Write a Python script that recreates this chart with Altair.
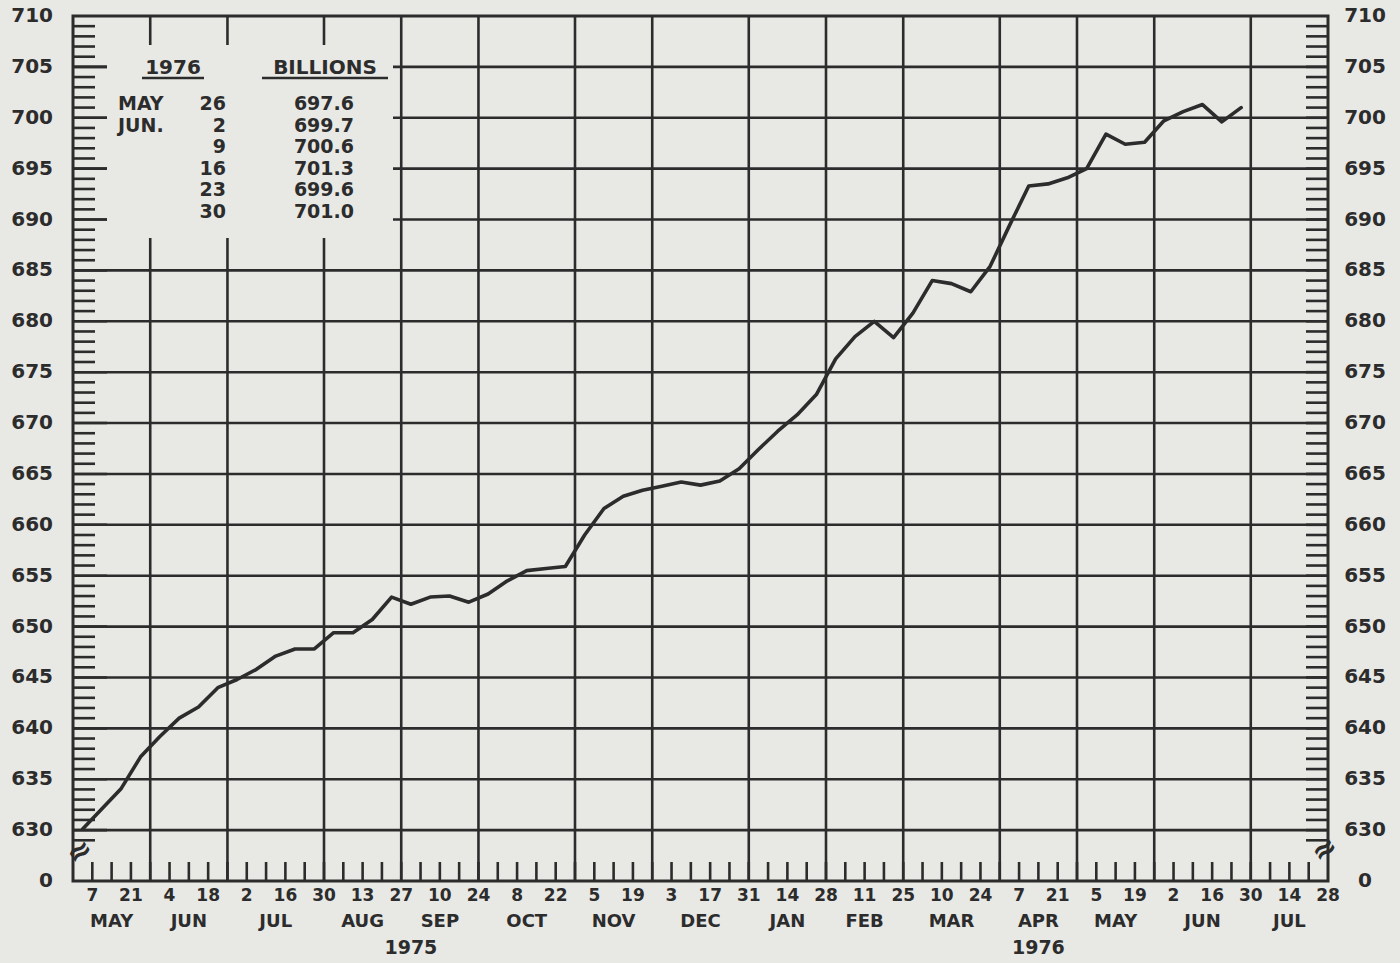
import altair as alt
import pandas as pd

# ---------------- data ----------------
START = "1975-04-30"          # left frame (last Wednesday of April 1975)
END = "1976-07-28"            # right frame

# weekly values (billions), Wednesdays from 7 May 1975 to 30 June 1976
MONEY_STOCK = [
    630.1, 632.1, 634.1, 637.2, 639.2, 641.0, 642.1, 644.0, 644.8, 645.8,
    647.1, 647.8, 647.8, 649.4, 649.4, 650.7, 652.9, 652.2, 652.9, 653.0,
    652.4, 653.2, 654.5, 655.5, 655.7, 655.9, 659.0, 661.6, 662.8, 663.4,
    663.8, 664.2, 663.9, 664.3, 665.5, 667.4, 669.2, 670.8, 672.8, 676.3,
    678.5, 680.0, 678.4, 680.8, 684.0, 683.7, 682.9, 685.4, 689.4, 693.3,
    693.5, 694.1, 695.0, 698.4, 697.4, 697.6, 699.7, 700.6, 701.3, 699.6,
    701.0,
]
FIRST_WEEK = "1975-05-07"

MONTH_NAMES = ["MAY", "JUN", "JUL", "AUG", "SEP", "OCT", "NOV", "DEC",
               "JAN", "FEB", "MAR", "APR", "MAY", "JUN", "JUL"]
MONTH_END_DATES = ["1975-05-28", "1975-06-25", "1975-07-30", "1975-08-27",
                   "1975-09-24", "1975-10-29", "1975-11-26", "1975-12-31",
                   "1976-01-28", "1976-02-25", "1976-03-31", "1976-04-28",
                   "1976-05-26", "1976-06-30", "1976-07-28"]
YEAR_NAMES = ["1975", "1976"]
YEAR_FIRST_MONTH = [0, 8]     # index into MONTH_NAMES where each year starts

DAY_TICK_LABELS = ["7", "21", "4", "18", "2", "16", "30", "13", "27", "10",
                   "24", "8", "22", "5", "19", "3", "17", "31", "14", "28",
                   "11", "25", "10", "24", "7", "21", "5", "19", "2", "16",
                   "30", "14", "28"]

Y_LABEL_VALUES = [625, 630, 635, 640, 645, 650, 655, 660, 665, 670, 675,
                  680, 685, 690, 695, 700, 705, 710]
Y_LABEL_TEXT = ["0"] + [str(v) for v in Y_LABEL_VALUES[1:]]

TABLE_YEAR = "1976"
TABLE_UNIT = "BILLIONS"
TABLE_MONTHS = ["MAY", "JUN.", "", "", "", ""]
TABLE_DAYS = ["26", "2", "9", "16", "23", "30"]
TABLE_VALUES = ["697.6", "699.7", "700.6", "701.3", "699.6", "701.0"]

# ---------------- layout / style ----------------
W, H = 1255, 865
BG = "#e8e8e5"
INK = "#2c2c2c"
FONT = "DejaVu Sans"
ROW_Y0, ROW_STEP = 88, 21.6   # table rows (pixels inside the plot)

start = pd.Timestamp(START)
n_weeks = (pd.Timestamp(END) - start).days / 7

xs = alt.Scale(domain=[0, n_weeks], nice=False, zero=False)
ys = alt.Scale(domain=[625, 710], nice=False, zero=False)


def wk(d):
    return (pd.Timestamp(d) - start).days / 7


dates = pd.date_range(FIRST_WEEK, periods=len(MONEY_STOCK), freq="7D")
line_df = pd.DataFrame({"date": dates, "value": MONEY_STOCK})
# each weekly figure is drawn half a week before its Wednesday (mid-week)
line_df["pos"] = [(d - start).days / 7 - 0.5 for d in dates]
line_df["date"] = line_df["date"].dt.strftime("%Y-%m-%d")

ends = [wk(d) for d in MONTH_END_DATES]
starts = [0.0] + ends[:-1]
month_df = pd.DataFrame({"name": MONTH_NAMES,
                         "pos": [(a + b) / 2 for a, b in zip(starts, ends)]})
vgrid_df = pd.DataFrame({"pos": ends[:-1]})
year_bounds = YEAR_FIRST_MONTH + [len(MONTH_NAMES)]
year_df = pd.DataFrame({
    "name": YEAR_NAMES,
    "pos": [(starts[year_bounds[i]] + ends[year_bounds[i + 1] - 1]) / 2
            for i in range(len(YEAR_NAMES))],
})
day_df = pd.DataFrame({"lab": DAY_TICK_LABELS,
                       "pos": [1 + 2 * i for i in range(len(DAY_TICK_LABELS))]})
week_ticks = pd.DataFrame({"pos": list(range(1, int(n_weeks)))})

hgrid_df = pd.DataFrame({"v": list(range(630, 710, 5))})
minor_df = pd.DataFrame({"v": [v for v in range(629, 710) if v % 5 != 0]})
major_df = pd.DataFrame({"v": list(range(630, 710, 5))})
right_df = pd.DataFrame({"v": list(range(629, 710))})
ylab_df = pd.DataFrame({"v": Y_LABEL_VALUES, "lab": Y_LABEL_TEXT})
table_df = pd.DataFrame({"month": TABLE_MONTHS, "day": TABLE_DAYS,
                         "val": TABLE_VALUES})
table_df["row"] = range(len(table_df))
one = pd.DataFrame({"a": [0]})

X = lambda f: alt.X(f, scale=xs, axis=None)
Y = lambda f: alt.Y(f, scale=ys, axis=None)

hgrid = alt.Chart(hgrid_df).mark_rule(color=INK, strokeWidth=2.6).encode(
    y=Y("v:Q"), x=alt.value(0), x2=alt.value(W))
vgrid = alt.Chart(vgrid_df).mark_rule(color=INK, strokeWidth=2.6).encode(
    x=X("pos:Q"), y=alt.value(0), y2=alt.value(H))
mask = alt.Chart(one).mark_rect(fill=BG).encode(
    x=alt.value(34), x2=alt.value(320), y=alt.value(29), y2=alt.value(222))
minor_ticks = alt.Chart(minor_df).mark_rule(color=INK, strokeWidth=2.6).encode(
    y=Y("v:Q"), x=alt.value(0), x2=alt.value(22))
major_ticks = alt.Chart(major_df).mark_rule(color=INK, strokeWidth=2.6).encode(
    y=Y("v:Q"), x=alt.value(0), x2=alt.value(34))
right_ticks = alt.Chart(right_df).mark_rule(color=INK, strokeWidth=2.6).encode(
    y=Y("v:Q"), x=alt.value(W - 22), x2=alt.value(W))
bottom_ticks = alt.Chart(week_ticks).mark_rule(color=INK, strokeWidth=2.6).encode(
    x=X("pos:Q"), y=alt.value(H - 19), y2=alt.value(H))

line = alt.Chart(line_df).mark_line(color=INK, strokeWidth=3.6,
                                    strokeJoin="round", strokeCap="round").encode(
    x=X("pos:Q"), y=Y("value:Q"))

txt = dict(font=FONT, fontWeight="bold", color=INK)
ylab_left = alt.Chart(ylab_df).mark_text(align="right", baseline="middle",
                                         fontSize=20, **txt).encode(
    y=Y("v:Q"), x=alt.value(-20), text="lab:N")
ylab_right = alt.Chart(ylab_df).mark_text(align="center", baseline="middle",
                                          fontSize=20, **txt).encode(
    y=Y("v:Q"), x=alt.value(W + 37), text="lab:N")
day_labels = alt.Chart(day_df).mark_text(align="center", baseline="middle",
                                         fontSize=17, **txt).encode(
    x=X("pos:Q"), y=alt.value(H + 15), text="lab:N")
month_labels = alt.Chart(month_df).mark_text(align="center", baseline="middle",
                                             fontSize=18, **txt).encode(
    x=X("pos:Q"), y=alt.value(H + 41), text="name:N")
year_labels = alt.Chart(year_df).mark_text(align="center", baseline="middle",
                                           fontSize=19, **txt).encode(
    x=X("pos:Q"), y=alt.value(H + 67), text="name:N")

tt = dict(font=FONT, fontWeight="bold", color=INK, fontSize=19)
head_year = alt.Chart(one).mark_text(align="center", baseline="middle",
                                     **dict(tt, fontSize=20)).encode(
    x=alt.value(100), y=alt.value(52), text=alt.value(TABLE_YEAR))
head_unit = alt.Chart(one).mark_text(align="center", baseline="middle",
                                     **dict(tt, fontSize=20)).encode(
    x=alt.value(252), y=alt.value(52), text=alt.value(TABLE_UNIT))
ul_year = alt.Chart(one).mark_rule(color=INK, strokeWidth=2.4).encode(
    x=alt.value(69), x2=alt.value(131), y=alt.value(62))
ul_unit = alt.Chart(one).mark_rule(color=INK, strokeWidth=2.4).encode(
    x=alt.value(189), x2=alt.value(315), y=alt.value(62))

row_base = alt.Chart(table_df).transform_calculate(
    py=f"{ROW_Y0} + {ROW_STEP} * datum.row")
col_month = row_base.transform_filter("datum.month != ''").mark_text(
    align="left", baseline="middle", **tt).encode(
    x=alt.value(45), y=alt.Y("py:Q", scale=None, axis=None), text="month:N")
col_day = row_base.mark_text(align="right", baseline="middle", **tt).encode(
    x=alt.value(153), y=alt.Y("py:Q", scale=None, axis=None), text="day:N")
col_val = row_base.mark_text(align="right", baseline="middle", **tt).encode(
    x=alt.value(281), y=alt.Y("py:Q", scale=None, axis=None), text="val:N")

brk_l = alt.Chart(one).mark_text(fontSize=30, angle=325, **txt).encode(
    x=alt.value(7), y=alt.value(836), text=alt.value("≈"))
brk_r = alt.Chart(one).mark_text(fontSize=30, angle=325, **txt).encode(
    x=alt.value(W - 3), y=alt.value(834), text=alt.value("≈"))

chart = alt.layer(
    hgrid, vgrid, mask, minor_ticks, major_ticks, right_ticks, bottom_ticks,
    line, ylab_left, ylab_right, day_labels, month_labels, year_labels,
    head_year, head_unit, ul_year, ul_unit, col_month, col_day, col_val,
    brk_l, brk_r,
).properties(
    width=W, height=H,
    padding={"left": 73, "top": 16, "right": 72, "bottom": 82},
    autosize=alt.AutoSizeParams(type="none"),
    background=BG,
).resolve_scale(y="independent").configure_view(stroke=INK, strokeWidth=3)

chart.save("out.html", embed_options={"renderer": "svg", "actions": False})
